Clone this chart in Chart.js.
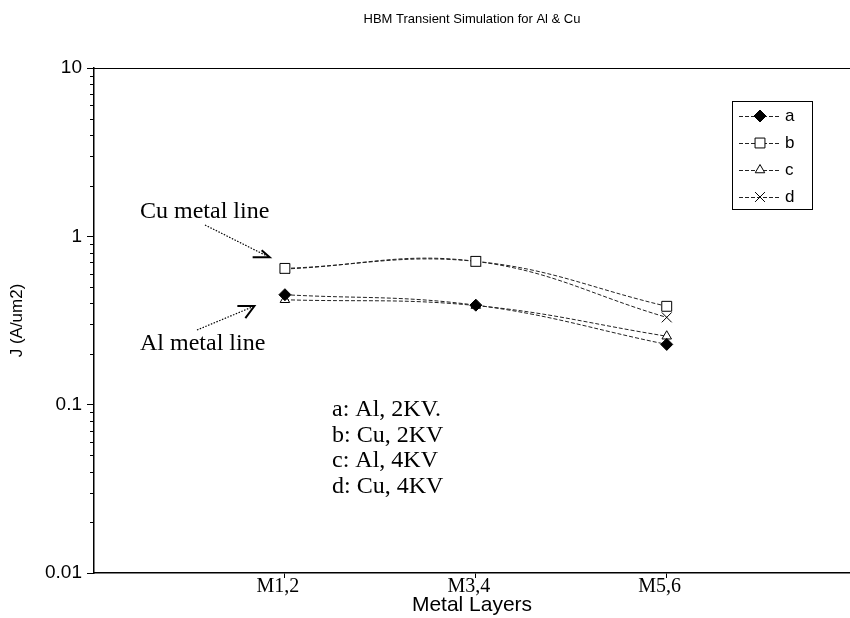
<!DOCTYPE html>
<html>
<head>
<meta charset="utf-8">
<script src="https://cdn.jsdelivr.net/npm/chart.js@4/dist/chart.umd.min.js"></script>
<style>
  body { margin: 0; background: #fff; }
  canvas { display: block; }
</style>
</head>
<body>
<canvas id="hbm" width="850" height="618"></canvas>
<script>
// metal layer groups and where they sit on the x axis
const layers = ['M1,2', 'M3,4', 'M5,6'];
const layerPos = [1, 2, 3];

// current density J (A/um2) per layer
const seriesA = [0.45, 0.39, 0.228];   // Al, 2KV
const seriesB = [0.645, 0.71, 0.384];  // Cu, 2KV
const seriesC = [0.42, 0.388, 0.255];  // Al, 4KV
const seriesD = [0.64, 0.71, 0.33];    // Cu, 4KV

const seriesKeys = ['a', 'b', 'c', 'd'];
const seriesNotes = ['a: Al, 2KV.', 'b: Cu, 2KV', 'c: Al, 4KV', 'd: Cu, 4KV'];

const yDecades = [0.01, 0.1, 1, 10];

const SERIF = '"Liberation Serif", "Times New Roman", serif';
const SANS = '"Liberation Sans", Arial, sans-serif';

function series(label, values, style) {
  return Object.assign({
    label,
    data: values.map((v, i) => ({ x: layerPos[i], y: v })),
    borderColor: '#222',
    borderWidth: 1,
    borderDash: [4, 2],
    tension: 0.4,
    pointBorderColor: '#000',
    pointBorderWidth: 1,
    pointHoverRadius: 6,
  }, style);
}

const datasets = [
  series(seriesKeys[0], seriesA, { pointStyle: 'rectRot', pointRadius: 6, pointBackgroundColor: '#000' }),
  series(seriesKeys[1], seriesB, { pointStyle: 'rect', pointRadius: 7, pointBackgroundColor: '#fff' }),
  series(seriesKeys[2], seriesC, { pointStyle: 'triangle', pointRadius: 5.5, pointBackgroundColor: '#fff' }),
  series(seriesKeys[3], seriesD, { pointStyle: 'crossRot', pointRadius: 7, pointBackgroundColor: '#fff' }),
];

// minor log ticks 2..9 inside each decade
function minorTicks() {
  const out = [];
  for (let d = 0; d < yDecades.length - 1; d++) {
    for (let m = 2; m <= 9; m++) out.push(+(yDecades[d] * m).toPrecision(3));
  }
  return out;
}

function drawArrow(ctx, from, tip, armA, armB) {
  ctx.save();
  ctx.strokeStyle = '#000';
  ctx.lineWidth = 1.2;
  ctx.setLineDash([1.5, 1.5]);
  ctx.beginPath();
  ctx.moveTo(from.x, from.y);
  ctx.lineTo(tip.x - (tip.x - from.x) * 0.05, tip.y - (tip.y - from.y) * 0.05);
  ctx.stroke();
  ctx.setLineDash([]);
  ctx.lineWidth = 2;
  ctx.beginPath();
  ctx.moveTo(armA.x, armA.y);
  ctx.lineTo(tip.x, tip.y);
  ctx.lineTo(armB.x, armB.y);
  ctx.stroke();
  ctx.restore();
}

const decorations = {
  id: 'decorations',
  afterDraw(chart) {
    const { ctx, chartArea } = chart;
    const xs = chart.scales.x;
    const ys = chart.scales.y;

    ctx.save();
    // top frame line
    ctx.strokeStyle = '#000';
    ctx.lineWidth = 1;
    ctx.beginPath();
    ctx.moveTo(chartArea.left, chartArea.top + 0.5);
    ctx.lineTo(chartArea.right, chartArea.top + 0.5);
    ctx.stroke();

    // short minor ticks on the log axis
    ctx.beginPath();
    minorTicks().forEach(v => {
      const py = Math.round(ys.getPixelForValue(v)) + 0.5;
      ctx.moveTo(chartArea.left - 4, py);
      ctx.lineTo(chartArea.left, py);
    });
    ctx.stroke();

    // title
    ctx.fillStyle = '#000';
    ctx.font = '13px ' + SANS;
    ctx.textAlign = 'center';
    ctx.textBaseline = 'middle';
    ctx.fillText('HBM Transient Simulation for Al & Cu', (chartArea.left + chartArea.right) / 2, 19);

    // legend box
    const box = { left: 732, top: 101, width: 80, height: 108 };
    ctx.lineWidth = 1;
    ctx.strokeRect(box.left + 0.5, box.top + 0.5, box.width, box.height);
    ctx.font = '17px ' + SANS;
    ctx.textAlign = 'left';
    chart.data.datasets.forEach((ds, i) => {
      const cy = box.top + 15 + i * 27;
      ctx.save();
      ctx.strokeStyle = ds.borderColor;
      ctx.lineWidth = 1;
      ctx.setLineDash(ds.borderDash);
      ctx.beginPath();
      ctx.moveTo(box.left + 7, cy + 0.5);
      ctx.lineTo(box.left + 49, cy + 0.5);
      ctx.stroke();
      ctx.setLineDash([]);
      ctx.fillStyle = ds.pointBackgroundColor;
      ctx.strokeStyle = ds.pointBorderColor;
      Chart.helpers.drawPoint(ctx, {
        pointStyle: ds.pointStyle, radius: ds.pointRadius, rotation: 0, borderWidth: 1,
      }, box.left + 28, cy);
      ctx.restore();
      ctx.fillStyle = '#000';
      ctx.fillText(ds.label, box.left + 53, cy);
    });

    // annotations for the two metal families
    ctx.font = '24px ' + SERIF;
    ctx.textBaseline = 'alphabetic';
    ctx.fillText('Cu metal line', 140, 218);
    ctx.fillText('Al metal line', 140, 350);

    const cuTip = { x: xs.getPixelForValue(0.92), y: ys.getPixelForValue(0.75) };
    drawArrow(ctx, { x: 205, y: 225 }, cuTip,
      { x: cuTip.x - 8, y: cuTip.y - 7 }, { x: cuTip.x - 17, y: cuTip.y });
    const alTip = { x: xs.getPixelForValue(0.84), y: ys.getPixelForValue(0.385) };
    drawArrow(ctx, { x: 197, y: 330 }, alTip,
      { x: alTip.x - 17, y: alTip.y }, { x: alTip.x - 9, y: alTip.y + 12 });

    // series notes
    seriesNotes.forEach((t, i) => ctx.fillText(t, 332, 416 + i * 25.5));
    ctx.restore();
  }
};

new Chart(document.getElementById('hbm'), {
  type: 'line',
  data: { datasets },
  plugins: [decorations],
  options: {
    responsive: false,
    animation: false,
    layout: { autoPadding: false, padding: { top: 68, right: 0, left: 0, bottom: 0 } },
    plugins: {
      legend: { display: false },
      title: { display: false },
      tooltip: { enabled: false },
    },
    scales: {
      x: {
        type: 'linear',
        min: 0,
        max: 3.96,
        afterFit: s => { s.height = 45; },
        afterBuildTicks: s => { s.ticks = layerPos.map(v => ({ value: v })); },
        ticks: {
          autoSkip: false,
          maxRotation: 0,
          color: '#000',
          padding: -3,
          labelOffset: -7,
          font: { family: SERIF, size: 20 },
          callback: (v) => layers[layerPos.indexOf(v)],
        },
        grid: { drawOnChartArea: false, tickLength: 5, tickColor: '#000' },
        border: { color: '#000', width: 1.5 },
        title: {
          display: true,
          text: 'Metal Layers',
          color: '#000',
          font: { family: SANS, size: 21 },
          padding: { top: 0, bottom: 0 },
        },
      },
      y: {
        type: 'logarithmic',
        min: 0.01,
        max: 10,
        afterFit: s => { s.width = 94; },
        afterBuildTicks: s => { s.ticks = yDecades.map(v => ({ value: v })); },
        ticks: {
          autoSkip: false,
          color: '#000',
          padding: 5,
          font: { family: SANS, size: 19 },
          callback: v => String(v),
        },
        grid: { drawOnChartArea: false, tickLength: 7, tickColor: '#000' },
        border: { color: '#000', width: 1.5 },
        title: {
          display: true,
          text: 'J (A/um2)',
          color: '#000',
          font: { family: SANS, size: 17 },
          padding: { top: 7, bottom: 0 },
        },
      },
    },
  },
});
</script>
</body>
</html>
